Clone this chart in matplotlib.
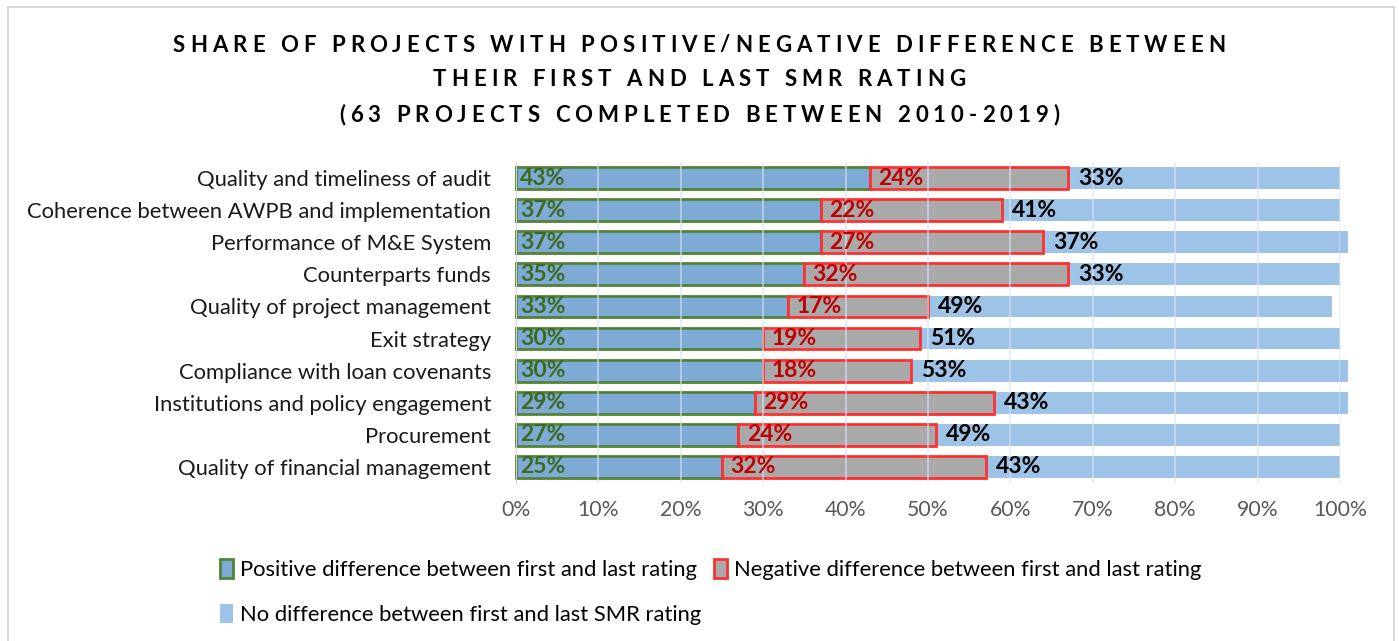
import matplotlib
matplotlib.use("Agg")
import matplotlib.pyplot as plt
from matplotlib.patches import Patch, Rectangle
import numpy as np

plt.rcParams['font.family'] = ['Lato', 'DejaVu Sans']

categories = [
    "Quality and timeliness of audit",
    "Coherence between AWPB and implementation",
    "Performance of M&E System",
    "Counterparts funds",
    "Quality of project management",
    "Exit strategy",
    "Compliance with loan covenants",
    "Institutions and policy engagement",
    "Procurement",
    "Quality of financial management",
]
positive = [43, 37, 37, 35, 33, 30, 30, 29, 27, 25]
negative = [24, 22, 27, 32, 17, 19, 18, 29, 24, 32]
no_diff = [33, 41, 37, 33, 49, 51, 53, 43, 49, 43]

title_lines = [
    "SHARE OF PROJECTS WITH POSITIVE/NEGATIVE DIFFERENCE BETWEEN",
    "THEIR FIRST AND LAST SMR RATING",
    "(63 PROJECTS COMPLETED BETWEEN 2010-2019)",
]

fig = plt.figure(figsize=(13.99, 6.41), dpi=100)
ax = fig.add_axes([0.3688, 0.2465, 0.589, 0.5008])

y = np.arange(len(categories))[::-1]
pos = np.array(positive)
neg = np.array(negative)
non = np.array(no_diff)

h = 0.68
b1 = ax.barh(y, pos, height=h, color='#7eaad6', edgecolor='#548235', linewidth=2, zorder=2)
b2 = ax.barh(y, neg, left=pos, height=h, color='#a9a9a9', edgecolor='#ff3030', linewidth=2, zorder=2)
b3 = ax.barh(y, non, left=pos + neg, height=h, color='#9dc3e6', linewidth=0, zorder=1)
for bars in (b1, b2, b3):
    for b in bars:
        b.set_clip_on(False)

for i in range(len(categories)):
    ax.text(0.5, y[i], f"{positive[i]}%", va='center', ha='left',
            fontsize=16.5, fontweight='bold', color='#3b6b20', zorder=4)
    ax.text(pos[i] + 1, y[i], f"{negative[i]}%", va='center', ha='left',
            fontsize=16.5, fontweight='bold', color='#c00000', zorder=4)
    ax.text(pos[i] + neg[i] + 1.2, y[i], f"{no_diff[i]}%", va='center', ha='left',
            fontsize=16.5, fontweight='bold', color='black', zorder=4)

ax.set_xlim(0, 100)
ax.set_ylim(-0.5, len(categories) - 0.5)
ax.set_yticks(y)
ax.set_yticklabels(categories, fontsize=15.8, color='#1a1a1a')
ax.set_xticks(np.arange(0, 101, 10))
ax.set_xticklabels([f"{v}%" for v in range(0, 101, 10)], fontsize=15.3, color='#595959')
ax.tick_params(axis='both', length=0)
ax.tick_params(axis='x', pad=12)
ax.tick_params(axis='y', pad=18)
ax.xaxis.grid(True, color='#d6e3f3', linewidth=1.2, alpha=0.7, zorder=3)
ax.set_axisbelow(False)
for s in ['top', 'right', 'bottom']:
    ax.spines[s].set_visible(False)
ax.spines['left'].set_color('#bfbfbf')

handles = [
    Patch(facecolor='#7eaad6', edgecolor='#548235', linewidth=2,
          label='Positive difference between first and last rating'),
    Patch(facecolor='#9dc3e6', edgecolor='none',
          label='No difference between first and last SMR rating'),
    Patch(facecolor='#a9a9a9', edgecolor='#ff3030', linewidth=2,
          label='Negative difference between first and last rating'),
]
fig.legend(handles=handles, ncol=2, loc='upper left', bbox_to_anchor=(0.143, 0.158),
           frameon=False, fontsize=15.8, handlelength=0.6, handleheight=0.9,
           handletextpad=0.3, columnspacing=0.6, labelspacing=1.1)

# title with wide letter spacing, one character at a time
renderer = fig.canvas.get_renderer()
tfont = dict(fontsize=16, fontweight='bold', color='black')


def text_width(s):
    t = fig.text(0, 0, s + "X", **tfont)
    w = t.get_window_extent(renderer).width
    t.remove()
    t = fig.text(0, 0, "X", **tfont)
    w -= t.get_window_extent(renderer).width
    t.remove()
    return w


W, H = fig.bbox.width, fig.bbox.height
spacing = 5.0
for li, line in enumerate(title_lines):
    offsets = [text_width(line[:k]) + k * spacing for k in range(len(line))]
    total = text_width(line) + (len(line) - 1) * spacing
    x0 = 699 - total / 2
    ypix = H - (45 + li * 35)
    for k, ch in enumerate(line):
        if ch == " ":
            continue
        fig.text((x0 + offsets[k]) / W, ypix / H, ch, ha='left', va='center', **tfont)

fig.patches.append(Rectangle((8 / W, -0.02), (1394 - 8) / W, 1 - 7 / H + 0.02,
                             transform=fig.transFigure, fill=False,
                             edgecolor='#d9d9d9', linewidth=1.5))

fig.savefig("out.png", dpi=100)
